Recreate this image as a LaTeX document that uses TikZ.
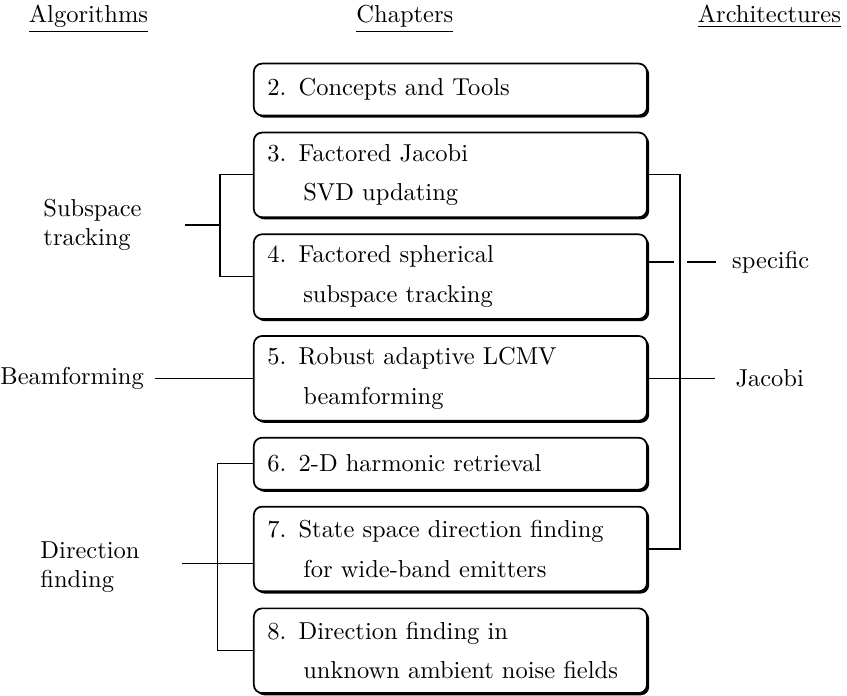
\documentclass[tikz,border=0pt]{standalone}
\usepackage{tikz}
\usetikzlibrary{calc}
\usetikzlibrary{positioning}
\usetikzlibrary{shadows}

\newcommand{\chapcont}{\\\hspace*{14.7pt}}

\begin{document}
\begin{tikzpicture}[
    chapter/.style={draw,rectangle,rounded corners=3.4pt,line width=0.7pt,fill=white,
      drop shadow={shadow xshift=0.9pt,shadow yshift=-0.9pt,opacity=1,fill=black},
      text width=149.5pt,inner xsep=5.5pt,inner ysep=0pt,align=left,
      font=\fontsize{10}{16}\selectfont},
    short/.style={chapter,minimum height=0.745cm},
    tall/.style={chapter,minimum height=1.215cm},
    header/.style={inner sep=0pt,anchor=base},
    group/.style={inner sep=0pt,align=left,anchor=west},
    conn/.style={line width=0.45pt}
  ]

  \useasboundingbox (0,0) rectangle (12.154,-9.973);

  \node [header] (halg) at (1.27,-0.33) {\underline{Algorithms}};
  \node [header] (hchap) at (5.81,-0.33) {\underline{Chapters}};
  \node [header] (harch) at (11.04,-0.33) {\underline{Architectures}};

  \node [short,anchor=north west] (c2) at (3.63,-0.9) {2. Concepts and Tools};
  \node [tall,below=0.22cm of c2] (c3) {3. Factored Jacobi\chapcont SVD updating};
  \node [tall,below=0.22cm of c3] (c4) {4. Factored spherical\chapcont subspace tracking};
  \node [tall,below=0.22cm of c4] (c5) {5. Robust adaptive LCMV\chapcont beamforming};
  \node [short,below=0.22cm of c5] (c6) {6. 2-D harmonic retrieval};
  \node [tall,below=0.22cm of c6] (c7) {7. State space direction finding\chapcont for wide-band emitters};
  \node [tall,below=0.22cm of c7] (c8) {8. Direction finding in\chapcont unknown ambient noise fields};

  \coordinate (leftedge) at (0,0);
  \coordinate (archlab) at (10.547,0);

  \node [group] (subsp) at (0.617,-3.229) {Subspace\\tracking};
  \node [group] (beam) at (c5.west -| leftedge) {Beamforming};
  \node [group] (dirf) at (0.574,-8.136) {Direction\\finding};
  \node [group] (spec) at (10.50,-3.76) {specific};
  \node [group] (jac) at (c5.east -| archlab) {Jacobi};

  \coordinate (sbar) at (3.157,0);
  \coordinate (dbar) at (3.12,0);
  \coordinate (jbar) at (9.758,0);
  \coordinate (sstub) at (2.655,-3.229);
  \coordinate (dstub) at (2.612,-8.08);

  \path [draw,conn]
    (c3.west) -- (c3.west -| sbar) -- (c4.west -| sbar) -- (c4.west)
    (sstub) -- (sstub -| sbar)
    ($(beam.east)+(0.15,0)$) -- (c5.west)
    (c6.west) -- (c6.west -| dbar) -- (c8.west -| dbar) -- (c8.west)
    (dstub) -- (dstub -| c7.west);

  \path [draw,conn]
    (c3.east) -- (c3.east -| jbar) -- (c7.east -| jbar) -- (c7.east)
    (c5.east) -- ($(jac.west)+(-0.287,0)$)
    (c4.east |- spec.west) -- ($(jbar |- spec.west)+(-0.086,0)$)
    ($(jbar |- spec.west)+(0.1,0)$) -- ($(spec.west)+(-0.23,0)$);

\end{tikzpicture}
\end{document}
